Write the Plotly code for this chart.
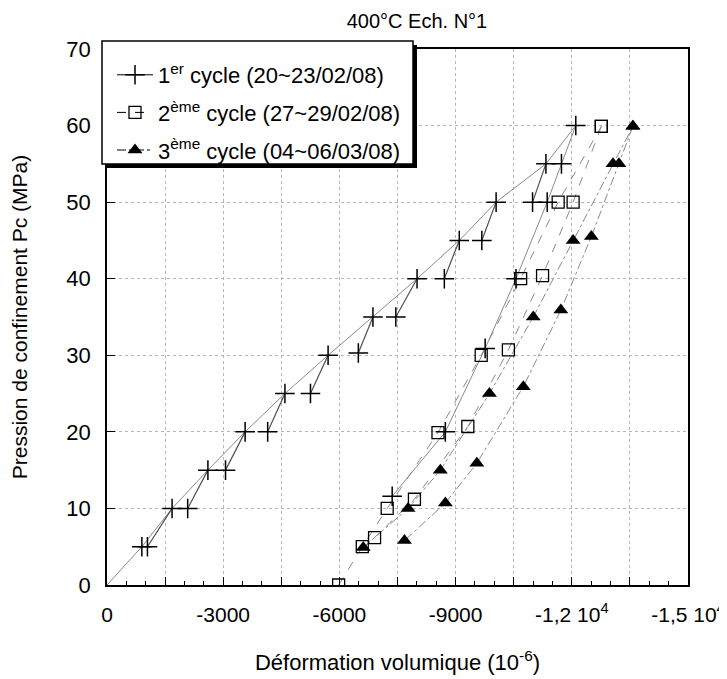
import plotly.graph_objects as go

# ---------------- data (deformation in 1e-6, pressure in MPa) ----------------
# Cycle 1 : loading, two readings per pressure level (start / end of stage)
c1_load_pc = [5, 10, 15, 20, 25, 30, 35, 40, 45, 50, 55]
c1_load_start = [-900, -1680, -2605, -3566, -4594, -5708, -6866, -8005, -9095, -10046, -11332]
c1_end_pc = [5, 10, 15, 20, 25, 30.3, 35, 40, 45, 50]
c1_load_end = [-1044, -2083, -3060, -4148, -5253, -6489, -7457, -8709, -9677, -10987]
c1_peak_pc = 60
c1_peak_eps = -12103
# Cycle 1 : unloading
c1_unl_pc = [60, 55, 50, 40, 30.9, 20, 11.6]
c1_unl_eps = [-12103, -11733, -11365, -10560, -9763, -8735, -7363]

# Cycle 2
c2_load_pc = [0, 5, 10, 19.9, 30, 40, 50, 59.9]
c2_load_eps = [-5980, -6591, -7234, -8545, -9661, -10679, -11648, -12762]
c2_unl_pc = [59.9, 50, 40.4, 30.7, 20.7, 11.2, 6.2]
c2_unl_eps = [-12762, -12034, -11245, -10363, -9316, -7937, -6908]

# Cycle 3
c3_load_pc = [4.9, 10, 15, 25, 35, 45, 55, 59.9]
c3_load_eps = [-6616, -7773, -8606, -9874, -11005, -12034, -13063, -13577]
c3_unl_pc = [59.9, 55, 45.5, 35.9, 25.9, 15.9, 10.7, 5.8]
c3_unl_eps = [-13577, -13217, -12505, -11717, -10748, -9548, -8735, -7680]

x_tick_vals = [0, -3000, -6000, -9000, -12000, -15000]
x_tick_text = ["0", "-3000", "-6000", "-9000", "-1,2 10<sup>4</sup>", "-1,5 10<sup>4</sup>"]
y_tick_vals = [0, 10, 20, 30, 40, 50, 60, 70]

legend_names = ["1<sup>er</sup> cycle (20~23/02/08)",
                "2<sup>ème</sup> cycle (27~29/02/08)",
                "3<sup>ème</sup> cycle (04~06/03/08)"]

FONT = "Liberation Sans, Arial, sans-serif"
GRAY = "#8a8a8a"
DARK = "#505050"
FS = 22

fig = go.Figure()

# cycle 1 straight loading envelope (origin through stage starts to peak)
fig.add_trace(go.Scatter(
    x=[0] + c1_load_start + [c1_peak_eps], y=[0] + c1_load_pc + [c1_peak_pc],
    mode="lines", line=dict(color=GRAY, width=1), showlegend=False, hoverinfo="skip"))
# cycle 1 segments: end of stage n -> start of stage n+1
seg_x, seg_y = [], []
for i in range(len(c1_load_end)):
    seg_x += [c1_load_end[i], c1_load_start[i + 1], None]
    seg_y += [c1_end_pc[i], c1_load_pc[i + 1], None]
fig.add_trace(go.Scatter(x=seg_x, y=seg_y, mode="lines",
                         line=dict(color=DARK, width=1.2), showlegend=False, hoverinfo="skip"))
# cycle 1 unloading
fig.add_trace(go.Scatter(x=c1_unl_eps, y=c1_unl_pc, mode="lines",
                         line=dict(color=GRAY, width=1), showlegend=False))
# cycle 2
fig.add_trace(go.Scatter(x=c2_load_eps, y=c2_load_pc, mode="lines",
                         line=dict(color=GRAY, width=1, dash="dash"), showlegend=False))
fig.add_trace(go.Scatter(x=c2_unl_eps, y=c2_unl_pc, mode="lines",
                         line=dict(color=GRAY, width=1, dash="dash"), showlegend=False))
# cycle 3
fig.add_trace(go.Scatter(x=c3_load_eps, y=c3_load_pc, mode="lines",
                         line=dict(color=GRAY, width=1, dash="dashdot"), showlegend=False))
fig.add_trace(go.Scatter(x=c3_unl_eps, y=c3_unl_pc, mode="lines",
                         line=dict(color=GRAY, width=1, dash="dashdot"), showlegend=False))

# markers
cross = dict(symbol="cross-thin", size=14, line=dict(color="black", width=1.5), color="black")
fig.add_trace(go.Scatter(x=c1_load_start + c1_load_end + c1_unl_eps,
                         y=c1_load_pc + c1_end_pc + c1_unl_pc,
                         mode="markers", marker=cross, showlegend=False))
square = dict(symbol="square-open", size=12, line=dict(color="black", width=1.3), color="black")
fig.add_trace(go.Scatter(x=c2_load_eps + c2_unl_eps, y=c2_load_pc + c2_unl_pc,
                         mode="markers", marker=square, showlegend=False))
tri = dict(symbol="triangle-up", size=13, color="black", line=dict(width=0))
fig.add_trace(go.Scatter(x=c3_load_eps + c3_unl_eps, y=c3_load_pc + c3_unl_pc,
                         mode="markers", marker=tri, showlegend=False))

# legend entries
fig.add_trace(go.Scatter(x=[None], y=[None], mode="lines+markers", name=legend_names[0],
                         legendgroup="a", line=dict(color="black", width=1), marker=cross))
fig.add_trace(go.Scatter(x=[None], y=[None], mode="lines+markers", name=legend_names[1],
                         legendgroup="b", line=dict(color="black", width=1, dash="dash"),
                         marker=square))
fig.add_trace(go.Scatter(x=[None], y=[None], mode="lines+markers", name=legend_names[2],
                         legendgroup="c", line=dict(color="black", width=1, dash="dashdot"),
                         marker=tri))

# legend box (shadow + white box), positions in screen pixels relative to plot area
L, T, R, B = 102, 41, 413, 164
pw, ph, ml, mt = 581, 536, 107, 49
def px(v): return (v - ml) / pw
def py(v): return (mt + ph - v) / ph
fig.add_shape(type="rect", xref="paper", yref="paper", x0=px(L + 4), x1=px(R + 4),
              y0=py(B + 4), y1=py(T + 4), fillcolor="black", line=dict(width=0), layer="above")
fig.add_shape(type="rect", xref="paper", yref="paper", x0=px(L), x1=px(R),
              y0=py(B), y1=py(T), fillcolor="white", line=dict(color="black", width=1.5),
              layer="above")

x_grid_vals = [-1500 * i for i in range(11)]
x_grid_text = [x_tick_text[i // 2] if i % 2 == 0 else "" for i in range(11)]

W, H = 727, 679  # page body adds an 8px offset
fig.update_layout(
    width=W, height=H,
    margin=dict(l=99, r=47, t=41, b=102),
    paper_bgcolor="white", plot_bgcolor="white",
    font=dict(family=FONT, size=FS, color="black"),
    title=dict(text="400°C Ech. N°1", x=409 / W, xanchor="center", y=1 - 13 / H,
               yanchor="middle", font=dict(size=20)),
    showlegend=True,
    legend=dict(x=px(112), y=py(54), xanchor="left", yanchor="top",
                bgcolor="rgba(0,0,0,0)", borderwidth=0, font=dict(size=FS),
                itemwidth=36, tracegroupgap=6),
    xaxis=dict(range=[0, -15000], tickmode="array", tickvals=x_grid_vals, ticktext=x_grid_text,
               ticks="inside", ticklen=8, tickwidth=1, tickcolor="black",
               showline=True, linecolor="black", linewidth=1.5, mirror=True,
               showgrid=True, gridcolor="#b5b5b5", griddash="dot", gridwidth=1,
               zeroline=False, automargin=False, ticklabelstandoff=10,
               tickfont=dict(size=21),
               minor=dict(tickmode="linear", tick0=0, dtick=500, ticks="inside", ticklen=4,
                          tickcolor="black", showgrid=False),
               title=dict(text="Déformation volumique (10<sup>-6</sup>)", standoff=30,
                          font=dict(size=FS))),
    yaxis=dict(range=[0, 70], tickvals=y_tick_vals, ticks="inside", ticklen=8,
               tickcolor="black", showline=True, linecolor="black", linewidth=1.5, mirror=True,
               showgrid=True, gridcolor="#b5b5b5", griddash="dot", gridwidth=1,
               zeroline=False, automargin=False, ticklabelstandoff=10,
               tickfont=dict(size=FS),
               title=dict(text="Pression de confinement Pc (MPa)", standoff=34,
                          font=dict(size=21))),
)

fig.write_html("out.html")
